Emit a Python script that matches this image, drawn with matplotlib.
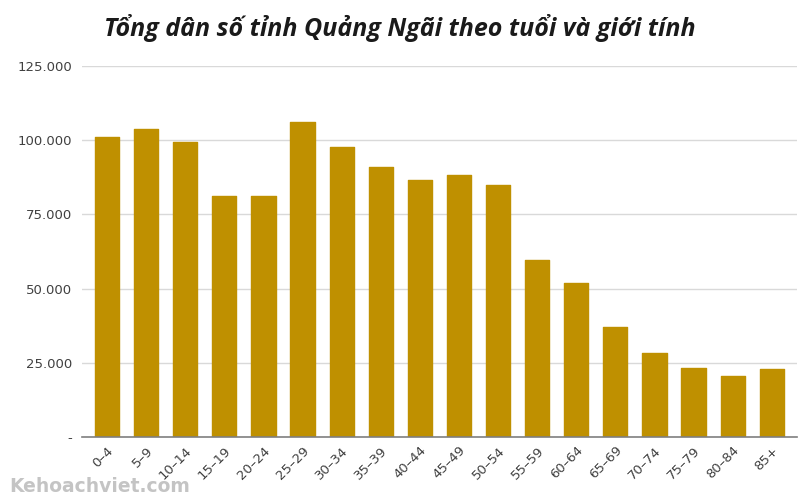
import matplotlib
matplotlib.use("Agg")
import matplotlib.pyplot as plt
from matplotlib.ticker import FuncFormatter

categories = ["0–4", "5–9", "10–14", "15–19", "20–24", "25–29", "30–34", "35–39",
              "40–44", "45–49", "50–54", "55–59", "60–64", "65–69", "70–74",
              "75–79", "80–84", "85+"]
values = [101100, 103800, 99400, 81200, 81200, 106100, 97700, 91000,
          86600, 88300, 84900, 59600, 51900, 37100, 28300, 23200, 20600, 22900]
yticks = [0, 25000, 50000, 75000, 100000, 125000]

fig = plt.figure(figsize=(8, 5), dpi=100)
ax = fig.add_axes([0.1025, 0.126, 0.8935, 0.742])

x = list(range(len(categories)))
bars = ax.bar(x, values, width=0.62, color="#BF9000", edgecolor="#BF9000",
              linewidth=1.0, zorder=3)
for b in bars:
    b.set_joinstyle("round")

ax.set_xlim(-0.64, len(categories) - 0.36)
ax.set_ylim(0, 125000)
ax.set_yticks(yticks)

def fmt(v, pos):
    if v == 0:
        return "-"
    return f"{int(v):,}".replace(",", ".")

ax.yaxis.set_major_formatter(FuncFormatter(fmt))
ax.grid(axis="y", color="#d9d9d9", linewidth=1, zorder=0)
ax.set_xticks(x)
ax.set_xticklabels(categories, rotation=45, ha="right", rotation_mode="anchor")

for s in ["top", "right", "left"]:
    ax.spines[s].set_visible(False)
ax.spines["bottom"].set_color("#7f7f7f")
ax.spines["bottom"].set_linewidth(1.2)
ax.spines["bottom"].set_zorder(4)
ax.tick_params(axis="y", length=0, pad=7, labelsize=9.5, labelcolor="#404040")
ax.tick_params(axis="x", length=0, pad=5, labelsize=9.5, labelcolor="#404040")
for lbl in ax.get_xticklabels() + ax.get_yticklabels():
    lbl.set_family("DejaVu Sans")

fig.text(0.5, 0.944, "Tổng dân số tỉnh Quảng Ngãi theo tuổi và giới tính",
         ha="center", va="center", fontsize=18, fontweight="bold", fontstyle="italic",
         family=["Liberation Sans Narrow", "Open Sans", "DejaVu Sans"], color="#1a1a1a")

fig.text(0.012, 0.027, "Kehoachviet.com", ha="left", va="center", fontsize=13.5,
         fontweight="bold", color="#c4c4c4", family="DejaVu Sans")

fig.savefig("out.png", dpi=100)
